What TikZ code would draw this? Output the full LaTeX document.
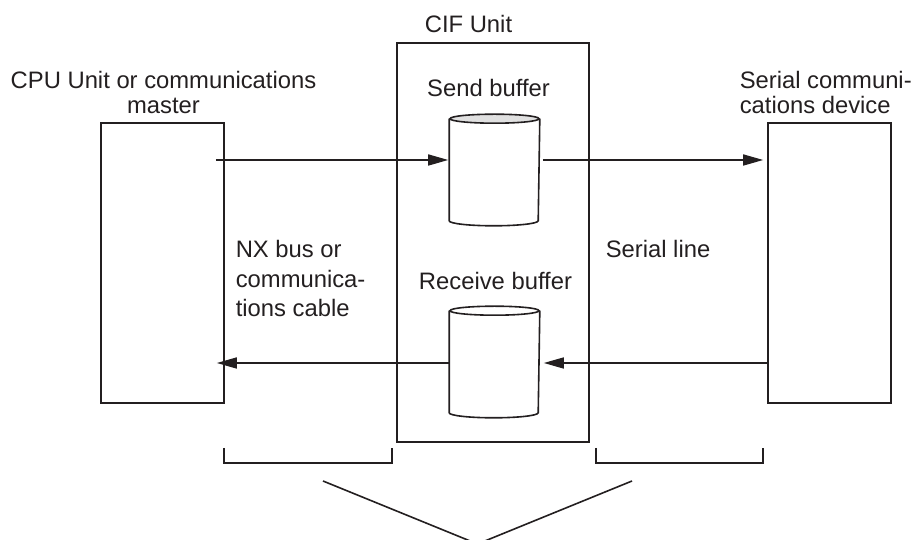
\documentclass[tikz,border=0pt]{standalone}
\usepackage{fontspec}
\setmainfont{Liberation Sans}
\usetikzlibrary{arrows.meta}
\definecolor{ink}{HTML}{231F20}
\begin{document}
\begin{tikzpicture}[x=1pt,y=1pt,
  line width=1.6pt, draw=ink,
  lbl/.style={inner sep=0pt, text=ink, font=\fontsize{23.8}{25}\selectfont},
  unitbox/.style={draw, rectangle, inner sep=0pt, line width=1.6pt},
  bufbody/.style={rectangle, inner sep=0pt, minimum width=89pt, minimum height=100.5pt},
  flow/.style={-{Triangle[length=20pt,width=11pt]}, line width=1.6pt, draw=ink},
  bracketline/.style={line width=1.6pt, draw=ink}]
\useasboundingbox (0,0) rectangle (912,540);
% units
\node[unitbox, minimum width=123pt, minimum height=280pt] (cpu) at (162.5,277) {};
\node[unitbox, minimum width=192pt, minimum height=399pt] (cif) at (493,297.5) {};
\node[unitbox, minimum width=123pt, minimum height=280pt] (dev) at (829.5,277) {};
% buffers (cylinders)
\node[bufbody] (sb) at (494.5,370.25) {};
\node[bufbody] (rb) at (494.5,178.25) {};
\foreach \b/\f in {sb/black!12, rb/white}{
  \draw[fill=white] (\b.north west) -- (\b.south west)
     arc[start angle=180, end angle=360, x radius=44.5pt, y radius=5pt]
     -- (\b.north east);
  \draw[fill=\f] (\b.north) ellipse[x radius=44.5pt, y radius=4.5pt];
}
% labels (base anchor of a multi-line node = baseline of its last line)
\node[lbl, anchor=base] (ciflbl) at (468.5,507) {CIF Unit};
\node[lbl, anchor=base] (sblbl) at (488.5,443) {Send buffer};
\node[lbl, anchor=base] (rblbl) at (495.5,250.5) {Receive buffer};
\node[lbl, anchor=base, align=center] (cpulbl) at (163.5,426.5) {CPU Unit or communications\\master};
\node[lbl, anchor=base west, align=left] (devlbl) at (739,426.5) {Serial communi-\\cations device};
\node[lbl, anchor=base west, align=left, font=\fontsize{23.8}{29.5}\selectfont] (nxlbl) at (235,223) {NX bus or\\communica-\\tions cable};
\node[lbl, anchor=base west] (serlbl) at (605,282) {Serial line};
% flows
\coordinate (topy) at (0,380);
\coordinate (boty) at (0,177);
\draw[flow] ([xshift=-9pt]cpu.east |- topy) -- ([xshift=-1pt]sb.west |- topy);
\draw[flow] ([xshift=3pt]sb.east |- topy) -- ([xshift=-4pt]dev.west |- topy);
\draw[flow] (dev.west |- boty) -- ([xshift=4pt]rb.east |- boty);
\draw[flow] (rb.west |- boty) -- ([xshift=-8pt]cpu.east |- boty);
% brackets
\coordinate (lb1) at (224,92); \coordinate (lb2) at (224,77);
\coordinate (lb3) at (392,77); \coordinate (lb4) at (392,92);
\coordinate (rb1) at (596,92); \coordinate (rb2) at (596,77);
\coordinate (rb3) at (763,77); \coordinate (rb4) at (763,92);
\draw[bracketline] (lb1) -- (lb2) -- (lb3) -- (lb4);
\draw[bracketline] (rb1) -- (rb2) -- (rb3) -- (rb4);
% converging lines
\coordinate (vl) at (323,59); \coordinate (vr) at (632,59);
\coordinate (apex) at (477.5,-4);
\begin{scope}
\clip (0,0) rectangle (912,540);
\draw[bracketline] (vl) -- (apex) -- (vr);
\end{scope}
\end{tikzpicture}
\end{document}
